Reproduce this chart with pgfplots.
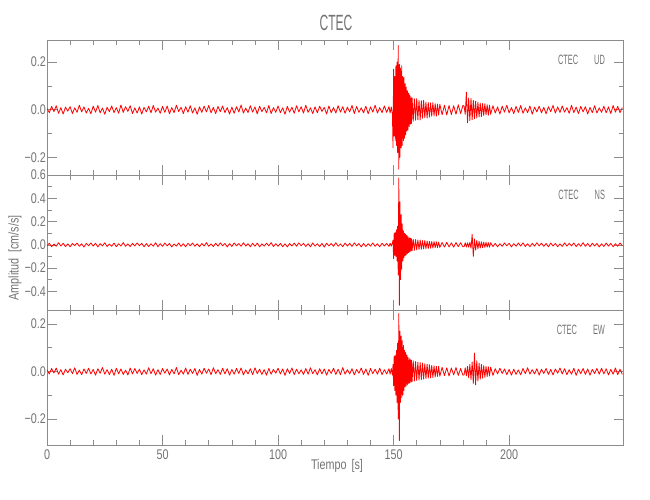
\documentclass[border=0pt]{standalone}
\usepackage{fontspec}
\setmainfont{Liberation Sans}[FakeStretch=0.77]
\newfontfamily\capfont{Liberation Sans}[FakeStretch=0.55]
\usepackage{pgfplots}
\pgfplotsset{compat=1.18}
\usepackage{pgfplotstable}
\definecolor{axgray}{RGB}{140,140,140}
\definecolor{txtgray}{RGB}{115,115,115}

\pgfplotstableread{
t ud ns ew
0 0.005 -0.009 0.007
1 -0.012 0.014 -0.010
2 0.014 -0.016 0.013
3 -0.008 0.007 -0.006
4 0.017 -0.012 0.015
5 -0.015 0.018 -0.011
6 0.009 -0.010 0.008
7 -0.018 0.013 -0.014
8 0.011 -0.015 0.010
9 -0.006 0.008 -0.005
10 0.013 -0.017 0.012
11 -0.016 0.011 -0.009
12 0.008 -0.007 0.016
13 -0.011 0.015 -0.012
14 0.019 -0.013 0.006
15 -0.009 0.009 -0.013
16 0.012 -0.019 0.011
17 -0.014 0.012 -0.008
18 0.006 -0.008 0.014
19 -0.017 0.016 -0.010
20 0.015 -0.011 0.009
21 -0.010 0.014 -0.015
22 0.018 -0.018 0.012
23 -0.013 0.010 -0.007
24 0.007 -0.009 0.017
25 -0.019 0.017 -0.011
26 0.010 -0.014 0.008
27 -0.008 0.007 -0.013
28 0.016 -0.012 0.010
29 -0.012 0.015 -0.016
30 0.009 -0.016 0.014
31 -0.015 0.009 -0.009
32 0.020 -0.011 0.011
33 -0.011 0.019 -0.012
34 0.013 -0.013 0.006
35 -0.007 0.008 -0.014
36 0.017 -0.015 0.015
37 -0.016 0.012 -0.010
38 0.008 -0.010 0.013
39 -0.014 0.017 -0.008
40 0.012 -0.008 0.010
41 -0.018 0.013 -0.013
42 0.010 -0.017 0.007
43 -0.009 0.011 -0.011
44 0.015 -0.014 0.016
45 -0.013 0.009 -0.009
46 0.018 -0.012 0.012
47 -0.010 0.018 -0.015
48 0.007 -0.016 0.008
49 -0.015 0.010 -0.012
50 0.014 -0.013 0.013
51 -0.011 0.015 -0.007
52 0.016 -0.009 0.011
53 -0.017 0.012 -0.014
54 0.009 -0.018 0.009
55 -0.012 0.007 -0.010
56 0.019 -0.011 0.017
57 -0.008 0.016 -0.013
58 0.011 -0.014 0.006
59 -0.016 0.010 -0.011
60 0.013 -0.017 0.015
61 -0.010 0.013 -0.012
62 0.017 -0.008 0.010
63 -0.014 0.015 -0.008
64 0.008 -0.012 0.013
65 -0.019 0.009 -0.016
66 0.012 -0.016 0.009
67 -0.011 0.011 -0.011
68 0.015 -0.010 0.014
69 -0.009 0.019 -0.007
70 0.018 -0.013 0.011
71 -0.013 0.008 -0.013
72 0.010 -0.015 0.016
73 -0.016 0.014 -0.009
74 0.014 -0.011 0.008
75 -0.008 0.017 -0.012
76 0.016 -0.009 0.014
77 -0.012 0.012 -0.010
78 0.009 -0.018 0.012
79 -0.018 0.010 -0.015
80 0.011 -0.014 0.009
81 -0.015 0.016 -0.011
82 0.013 -0.008 0.013
83 -0.009 0.011 -0.008
84 0.020 -0.013 0.015
85 -0.014 0.018 -0.014
86 0.007 -0.010 0.007
87 -0.012 0.009 -0.010
88 0.017 -0.016 0.012
89 -0.010 0.013 -0.013
90 0.012 -0.012 0.016
91 -0.017 0.015 -0.009
92 0.015 -0.017 0.010
93 -0.008 0.008 -0.012
94 0.010 -0.011 0.008
95 -0.013 0.014 -0.015
96 0.018 -0.009 0.013
97 -0.016 0.019 -0.011
98 0.009 -0.015 0.009
99 -0.011 0.010 -0.007
100 0.016 -0.013 0.014
101 -0.012 0.012 -0.010
102 0.008 -0.016 0.011
103 -0.019 0.009 -0.016
104 0.014 -0.018 0.012
105 -0.010 0.011 -0.008
106 0.011 -0.010 0.015
107 -0.015 0.015 -0.013
108 0.017 -0.012 0.010
109 -0.009 0.017 -0.009
110 0.013 -0.008 0.007
111 -0.014 0.013 -0.012
112 0.019 -0.014 0.013
113 -0.011 0.010 -0.011
114 0.008 -0.017 0.016
115 -0.016 0.016 -0.009
116 0.012 -0.011 0.008
117 -0.013 0.009 -0.014
118 0.015 -0.015 0.012
119 -0.007 0.012 -0.010
120 0.010 -0.019 0.011
121 -0.018 0.014 -0.015
122 0.016 -0.009 0.009
123 -0.012 0.011 -0.008
124 0.009 -0.013 0.014
125 -0.014 0.018 -0.012
126 0.017 -0.012 0.010
127 -0.010 0.008 -0.013
128 0.013 -0.016 0.017
129 -0.015 0.015 -0.011
130 0.011 -0.010 0.008
131 -0.009 0.013 -0.010
132 0.018 -0.014 0.012
133 -0.016 0.017 -0.014
134 0.014 -0.009 0.009
135 -0.011 0.011 -0.007
136 0.008 -0.018 0.015
137 -0.013 0.012 -0.012
138 0.015 -0.015 0.011
139 -0.017 0.010 -0.016
140 0.012 -0.011 0.013
141 -0.010 0.016 -0.009
142 0.019 -0.013 0.010
143 -0.014 0.009 -0.011
144 0.009 -0.017 0.014
145 -0.012 0.014 -0.013
146 0.016 -0.010 0.008
147 -0.011 0.012 -0.010
148 0.013 -0.014 0.012
148.5 -0.014 0.014 -0.011
149 0.012 -0.012 0.013
149.5 -0.020 0.016 -0.015
149.75 -0.160 0.040 0.030
150 0.170 -0.120 -0.060
150.25 -0.110 0.100 0.065
150.5 0.140 -0.090 -0.080
150.75 -0.130 0.110 0.070
151 0.185 -0.100 -0.100
151.25 -0.150 0.130 0.090
151.5 0.200 -0.140 -0.130
151.75 -0.180 0.160 0.120
152 0.270 -0.260 -0.200
152.25 -0.250 0.575 0.244
152.5 0.190 -0.520 -0.290
152.75 -0.200 0.370 0.170
153 0.175 -0.300 -0.130
153.25 -0.160 0.260 0.150
153.5 0.185 -0.210 -0.110
153.75 -0.150 0.180 0.130
154 0.140 -0.140 -0.100
154.25 -0.130 0.120 0.110
154.5 0.135 -0.110 -0.080
154.75 -0.120 0.100 0.090
155 0.110 -0.095 -0.065
155.25 -0.105 0.090 0.080
155.5 0.095 -0.085 -0.060
155.75 -0.090 0.080 0.070
156 0.080 -0.075 -0.055
156.25 -0.085 0.070 0.060
156.5 0.070 -0.066 -0.050
156.75 -0.072 0.062 0.055
157 0.062 -0.060 -0.048
157.25 -0.060 0.058 0.050
157.5 0.055 -0.055 -0.045
157.75 -0.058 0.052 0.048
158 0.050 -0.050 -0.042
158.5 -0.048 0.048 0.045
159 0.046 -0.047 -0.040
159.5 -0.044 0.045 0.042
160 0.047 -0.044 -0.038
160.5 -0.042 0.042 0.040
161 0.040 -0.040 -0.036
161.5 -0.043 0.041 0.038
162 0.038 -0.038 -0.034
162.5 -0.036 0.036 0.036
163 0.039 -0.035 -0.032
163.5 -0.034 0.037 0.033
164 0.032 -0.033 -0.030
164.5 -0.035 0.032 0.031
165 0.030 -0.031 -0.028
165.5 -0.031 0.030 0.029
166 0.029 -0.029 -0.027
166.5 -0.027 0.028 0.026
167 0.030 -0.027 -0.025
167.5 -0.026 0.028 0.024
168 0.025 -0.025 -0.023
168.5 -0.027 0.026 0.022
169 0.024 -0.024 -0.021
169.5 -0.022 0.023 0.022
170 0.023 -0.022 -0.020
171 -0.021 0.020 0.018
172 0.019 -0.019 -0.017
173 -0.022 0.021 0.016
174 0.018 -0.018 -0.019
175 -0.020 0.017 0.015
176 0.017 -0.020 -0.014
177 -0.019 0.019 0.017
178 0.021 -0.016 -0.016
179 -0.016 0.018 0.013
180 0.018 -0.017 -0.015
180.5 0.016 -0.016 -0.014
181 -0.020 0.018 0.016
181.5 0.074 -0.019 -0.018
182 -0.055 0.017 0.022
182.5 0.050 -0.020 -0.026
183 -0.045 0.022 0.030
183.5 0.048 -0.030 -0.034
184 -0.042 0.090 0.040
184.5 0.040 -0.100 -0.050
185 -0.038 0.050 0.078
185.5 0.036 -0.045 -0.056
186 -0.035 0.038 0.045
186.5 0.032 -0.035 -0.040
187 -0.030 0.030 0.035
187.5 0.028 -0.028 -0.032
188 -0.029 0.026 0.030
188.5 0.026 -0.025 -0.028
189 -0.024 0.023 0.025
189.5 0.025 -0.022 -0.024
190 -0.022 0.021 0.022
190.5 0.021 -0.020 -0.021
191 -0.023 0.019 0.020
191.5 0.020 -0.020 -0.019
192 -0.019 0.018 0.018
193 0.017 -0.015 -0.016
194 -0.014 0.012 0.012
195 0.012 -0.017 -0.010
196 -0.018 0.010 0.014
197 0.015 -0.013 -0.008
198 -0.010 0.016 0.011
199 0.019 -0.009 -0.013
200 -0.013 0.014 0.009
201 0.009 -0.018 -0.015
202 -0.016 0.011 0.010
203 0.014 -0.012 -0.012
204 -0.011 0.015 0.007
205 0.018 -0.010 -0.014
206 -0.015 0.017 0.013
207 0.008 -0.014 -0.009
208 -0.012 0.009 0.016
209 0.016 -0.016 -0.011
210 -0.019 0.013 0.008
211 0.011 -0.011 -0.010
212 -0.009 0.018 0.012
213 0.015 -0.009 -0.015
214 -0.013 0.014 0.010
215 0.010 -0.013 -0.008
216 -0.017 0.011 0.013
217 0.013 -0.017 -0.012
218 -0.008 0.015 0.009
219 0.018 -0.010 -0.014
220 -0.014 0.012 0.011
221 0.012 -0.016 -0.007
222 -0.011 0.008 0.015
223 0.016 -0.014 -0.010
224 -0.010 0.017 0.012
225 0.009 -0.011 -0.013
226 -0.015 0.013 0.008
227 0.019 -0.009 -0.011
228 -0.012 0.016 0.014
229 0.011 -0.015 -0.016
230 -0.016 0.010 0.010
231 0.014 -0.012 -0.009
232 -0.009 0.019 0.013
233 0.013 -0.013 -0.012
234 -0.018 0.011 0.011
235 0.010 -0.016 -0.015
236 -0.012 0.014 0.009
237 0.017 -0.010 -0.008
238 -0.014 0.012 0.013
239 0.008 -0.018 -0.011
240 -0.011 0.009 0.014
241 0.015 -0.014 -0.010
242 -0.013 0.015 0.012
243 0.012 -0.011 -0.014
244 -0.016 0.013 0.009
245 0.018 -0.017 -0.011
246 -0.010 0.010 0.015
247 0.014 -0.012 -0.013
248 -0.012 0.016 0.010
249 0.009 -0.009 -0.012
}\data

\tikzset{
  lab/.style={anchor=east, xshift=-15pt, yshift=-19.5pt, txtgray, font=\capfont\fontsize{13.5}{13.5}\selectfont},
  trace/.style={red, line width=0.8pt, line join=round, mark=none}
}
\pgfplotsset{
  seis/.style={
    scale only axis, width=576.5pt, height=135pt, anchor=south west,
    xmin=0, xmax=249.5,
    xtick={0,50,100,150,200}, minor x tick num=4,
    minor y tick num=1,
    major tick length=10pt, minor tick length=5pt,
    axis line style={axgray, line width=0.6pt},
    tick style={axgray, line width=0.6pt},
    tick label style={txtgray, font=\fontsize{14}{14}\selectfont},
    yticklabel style={anchor=east, inner xsep=1pt},
    xticklabel style={anchor=center, yshift=-9.5pt},
  },
}

\begin{document}
\begin{tikzpicture}
\path[use as bounding box] (0,0) rectangle (650pt,500pt);

\begin{axis}[seis, at={(47pt,325pt)},
  ymin=-0.274, ymax=0.293,
  ytick={-0.2,0,0.2}, yticklabels={−0.2,0.0,0.2},
  xticklabels={}]
\addplot[trace] table[x=t, y=ud] {\data};
\node[lab] at (rel axis cs:1,1) {CTEC\hspace{16pt}UD};
\end{axis}

\begin{axis}[seis, at={(47pt,190pt)},
  ymin=-0.56, ymax=0.6,
  ytick={-0.4,-0.2,0,0.2,0.4,0.6}, yticklabels={−0.4,−0.2,0.0,0.2,0.4,0.6},
  xticklabels={}]
\addplot[trace] table[x=t, y=ns] {\data};
\node[lab] at (rel axis cs:1,1) {CTEC\hspace{16pt}NS};
\end{axis}

\begin{axis}[seis, at={(47pt,55pt)},
  ymin=-0.309, ymax=0.259,
  ytick={-0.2,0,0.2}, yticklabels={−0.2,0.0,0.2},
  xticklabels={0,50,100,150,200}]
\addplot[trace] table[x=t, y=ew] {\data};
\node[lab] at (rel axis cs:1,1) {CTEC\hspace{16pt}EW};
\end{axis}

\node[txtgray, font=\capfont\fontsize{22}{22}\selectfont] at (336pt,477pt) {CTEC};
\node[txtgray, rotate=90, font=\fontsize{14}{14}\selectfont] at (15pt,242pt) {Amplitud\hspace{6pt}[cm/s/s]};
\node[txtgray, font=\fontsize{14}{14}\selectfont] at (337pt,34pt) {Tiempo\hspace{5pt}[s]};
\end{tikzpicture}
\end{document}
